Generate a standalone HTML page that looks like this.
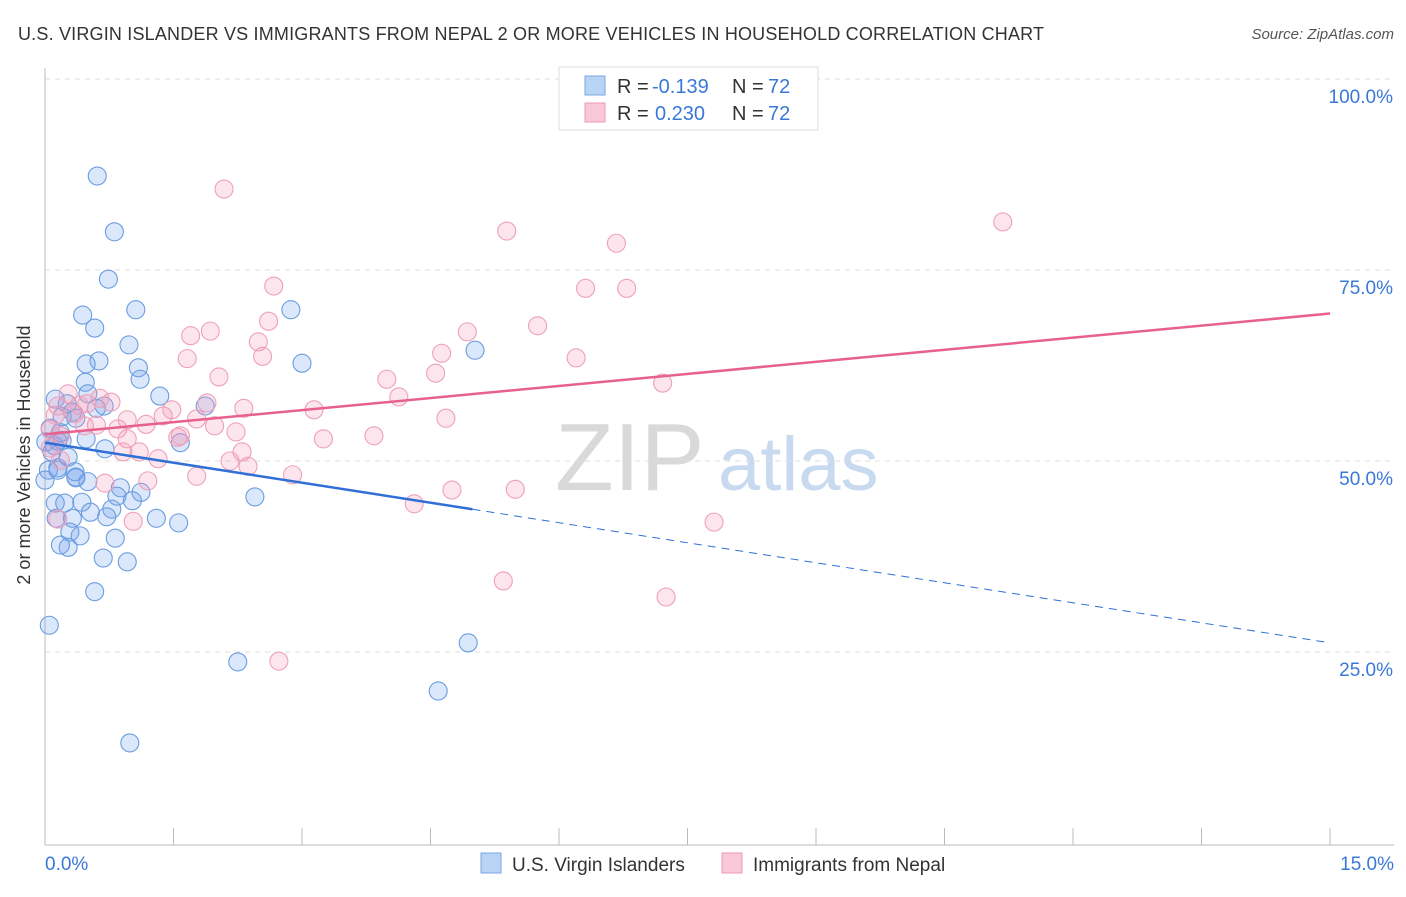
<!DOCTYPE html>
<html><head><meta charset="utf-8"><style>
body{margin:0;background:#fff;font-family:"Liberation Sans",sans-serif}
svg text{font-family:"Liberation Sans",sans-serif}
</style></head><body>
<svg id="c" width="1406" height="892">
<text x="18" y="40" font-size="18" fill="#333" textLength="1026">U.S. VIRGIN ISLANDER VS IMMIGRANTS FROM NEPAL 2 OR MORE VEHICLES IN HOUSEHOLD CORRELATION CHART</text>
<text x="1394" y="39" font-size="15" fill="#555" text-anchor="end" font-style="italic">Source: ZipAtlas.com</text>
<text x="555" y="490" font-size="96" fill="#d9d9d9" font-family="Liberation Serif">ZIP</text>
<text x="718" y="490" font-size="76" fill="#c8daf0">atlas</text>
<g id="grid"></g><g id="pts"></g><g id="lines"></g>
<g>
<rect x="559" y="67" width="259" height="63" fill="#fff" stroke="#ddd"/>
<rect x="585" y="76" width="20" height="19" fill="#b9d3f5" stroke="#7aa6e4"/>
<rect x="585" y="103" width="20" height="19" fill="#f9c8d8" stroke="#ec9ab6"/>
<text x="617" y="93" font-size="20" fill="#333">R =</text>
<text x="652" y="93" font-size="20" fill="#3a78d8">-0.139</text>
<text x="732" y="93" font-size="20" fill="#333">N =</text>
<text x="768" y="93" font-size="20" fill="#3a78d8">72</text>
<text x="617" y="120" font-size="20" fill="#333">R =</text>
<text x="655" y="120" font-size="20" fill="#3a78d8">0.230</text>
<text x="732" y="120" font-size="20" fill="#333">N =</text>
<text x="768" y="120" font-size="20" fill="#3a78d8">72</text>
</g>
<g>
<rect x="481" y="853" width="20" height="20" fill="#b9d3f5" stroke="#7aa6e4"/>
<text x="512" y="871" font-size="19" fill="#333">U.S. Virgin Islanders</text>
<rect x="722" y="853" width="20" height="20" fill="#f9c8d8" stroke="#ec9ab6"/>
<text x="753" y="871" font-size="19" fill="#333">Immigrants from Nepal</text>
</g>
<text x="30" y="455" font-size="18" fill="#333" transform="rotate(-90 30 455)" text-anchor="middle">2 or more Vehicles in Household</text>
</svg>
<script>
const yTicks=[25,50,75,100];
const xTickLabels=["0.0%","15.0%"];
const blueX=[0.61,0.81,0.74,1.06,0.44,0.58,0.98,0.63,0.48,1.09,1.11,0.47,1.34,0.12,0.50,0.26,0.69,0.32,0.60,1.87,0.20,0.36,0.06,0.18,0.48,1.58,0.11,0.70,0.08,0.15,0.04,0.35,0.15,0.36,0.50,0.88,1.12,0.84,1.02,0.12,0.23,0.43,0.78,0.53,0.13,0.32,0.72,1.30,1.56,0.29,0.41,0.82,0.27,0.68,0.96,0.58,0.05,2.25,0.99,2.87,3.00,5.02,2.45,4.94,4.59,0.0,0.20,0.01,0.27,0.15,0.18,0.36];
const blueY=[87.3,80.0,73.8,69.8,69.1,67.4,65.2,63.1,62.7,62.2,60.7,60.3,58.5,58.1,58.8,57.5,57.2,56.4,56.9,57.2,55.8,55.6,54.3,53.7,52.9,52.4,52.0,51.6,51.2,52.6,48.8,48.6,49.1,47.9,47.3,46.5,45.9,45.4,44.8,44.5,44.5,44.6,43.7,43.3,42.5,42.5,42.7,42.5,41.9,40.7,40.2,39.9,38.7,37.3,36.8,32.9,28.5,23.7,13.1,69.8,62.8,64.5,45.3,26.2,19.9,47.5,52.7,52.5,50.5,48.8,39.0,47.8];
const pinkX=[2.09,5.39,11.18,6.67,2.67,6.31,6.79,2.61,1.93,1.70,5.75,2.49,4.93,2.54,4.63,1.66,6.20,4.56,2.03,3.99,7.21,4.13,0.27,0.64,0.77,0.15,1.89,2.32,3.14,0.49,0.34,0.96,1.38,1.48,1.77,1.18,0.85,1.98,0.60,0.46,4.68,2.23,1.55,3.25,3.84,0.96,0.18,1.10,0.91,2.30,1.32,2.16,2.37,1.77,1.20,2.89,0.70,4.75,5.49,4.31,7.81,1.03,0.15,5.35,7.25,2.73,0.06,0.06,0.18,0.40,1.58,0.12];
const pinkY=[85.6,80.1,81.3,78.5,72.9,72.6,72.6,68.3,67.0,66.4,67.7,65.6,66.9,63.7,64.1,63.4,63.5,61.5,61.0,60.7,60.2,58.4,58.8,58.2,57.7,57.2,57.6,56.9,56.7,57.5,56.2,55.4,55.9,56.7,55.5,54.8,54.2,54.6,54.7,54.6,55.6,53.8,53.1,52.9,53.3,52.9,53.3,51.2,51.2,51.2,50.3,50.0,49.3,48.0,47.4,48.2,47.1,46.2,46.3,44.4,42.0,42.1,42.4,34.3,32.2,23.8,54.1,51.7,50.1,57.3,53.3,56.0];
const blueTrend=[52.4,26.2], pinkTrend=[53.5,69.3], blueSolidEnd=4.99;
const NS="http://www.w3.org/2000/svg";
const X=v=>45+v*(1285/15), Y=v=>843-v*7.64;
function mk(t,a,p){const e=document.createElementNS(NS,t);for(const k in a)e.setAttribute(k,a[k]);p.appendChild(e);return e;}
const grid=document.getElementById('grid');
for(const t of yTicks){
 const l=mk('line',{x1:45,x2:1394,y1:Y(t),y2:Y(t),stroke:'#ddd','stroke-dasharray':'5,5'},grid);
 
 
 const tx=mk('text',{x:1393,y:Y(t)+24,'font-size':19,fill:'#3a78d8','text-anchor':'end'},grid);
 tx.textContent=t.toFixed(1)+'%';
 
 
}
mk('line',{x1:45,x2:45,y1:68,y2:845,stroke:'#bbb'},grid);
mk('line',{x1:45,x2:1394,y1:845,y2:845,stroke:'#bbb'},grid);
for(let i=0;i<=10;i++){const x=X(i*1.5);mk('line',{x1:x,x2:x,y1:828,y2:845,stroke:'#bbb'},grid);}
let a=mk('text',{x:45,y:870,'font-size':19,fill:'#3a78d8'},grid);a.textContent=xTickLabels[0];


a=mk('text',{x:1394,y:870,'font-size':19,fill:'#3a78d8','text-anchor':'end'},grid);a.textContent=xTickLabels[1];


const pts=document.getElementById('pts');
function draw(xs,ys,fill,stroke,name){for(let i=0;i<xs.length;i++){
 const c=mk('circle',{cx:X(xs[i]),cy:Y(ys[i]),r:9,fill:fill,stroke:stroke,'stroke-width':1.1},pts);
 
 
}}
draw(blueX,blueY,'rgba(110,160,235,0.25)','#6a9de0','blue-point');
draw(pinkX,pinkY,'rgba(242,150,182,0.25)','#ee a0bb'.replace(' ',''),'pink-point');
const ln=document.getElementById('lines');
const by=x=>blueTrend[0]+(blueTrend[1]-blueTrend[0])*x/15;
let l=mk('line',{x1:X(0),y1:Y(blueTrend[0]),x2:X(blueSolidEnd),y2:Y(by(blueSolidEnd)),stroke:'#2f6fd6','stroke-width':2.5},ln);


l=mk('line',{x1:X(blueSolidEnd),y1:Y(by(blueSolidEnd)),x2:X(15),y2:Y(blueTrend[1]),stroke:'#2f6fd6','stroke-width':1,'stroke-dasharray':'8,6'},ln);


l=mk('line',{x1:X(0),y1:Y(pinkTrend[0]),x2:X(15),y2:Y(pinkTrend[1]),stroke:'#e8608e','stroke-width':2.5},ln);


</script>
</body></html>
